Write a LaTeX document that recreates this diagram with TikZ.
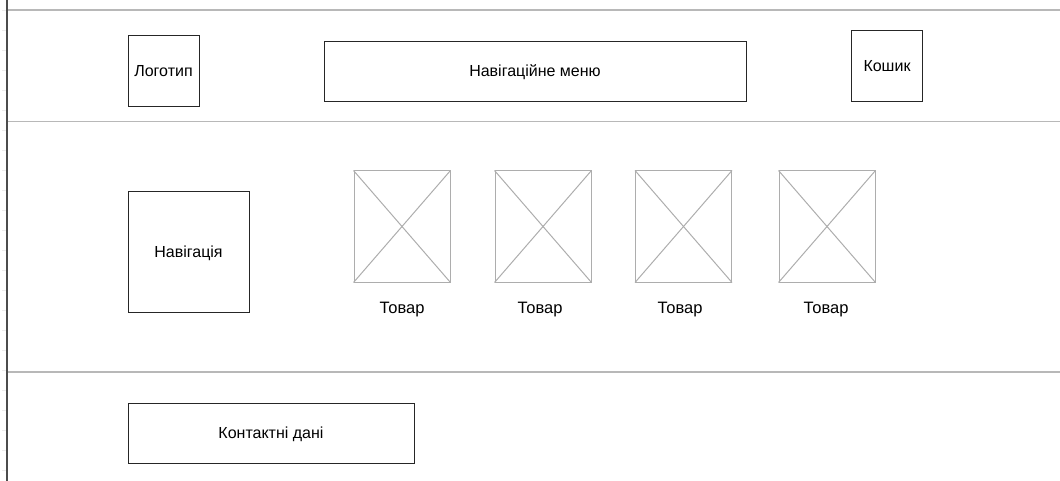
\documentclass[tikz,border=0pt]{standalone}
\usepackage{fontspec}
\setmainfont{Liberation Sans}
\usetikzlibrary{positioning}

\begin{document}
\begin{tikzpicture}[x=1pt, y=-1pt,
    box/.style = {draw=black!85, line width=0.9pt, fill=white, inner sep=0pt,
                  text depth=0pt, font=\fontsize{16}{19}\selectfont},
    img/.style = {draw=black!32, line width=1pt, inner sep=0pt,
                  minimum width=96pt, minimum height=111pt},
    rule/.style = {draw=black!28, line width=1.1pt},
    tick/.style = {draw=black!8, line width=0.8pt},
    caption/.style = {inner sep=0pt, font=\fontsize{16.5}{19}\selectfont}]

    \useasboundingbox (0,0) rectangle (1060,481);

    % page frame
    \draw[rule] (7,10) -- (1060,10);
    \draw[rule] (7,121.5) -- (1060,121.5);
    \draw[rule] (7,372) -- (1060,372);
    \foreach \t in {10,30,...,470}
        \draw[tick] (2,\t) -- (7,\t);
    \draw[black!70, line width=1.5pt] (7,0) -- (7,481);

    % header
    \node[box, minimum width=71pt, minimum height=71pt] (logo) at (163.5,70.5) {Логотип};
    \node[box, minimum width=422pt, minimum height=60pt] (menu) at (535,71) {Навігаційне меню};
    \node[box, minimum width=71pt, minimum height=71pt] (cart) at (887,65.5) {Кошик};

    % content
    \node[box, minimum width=121pt, minimum height=121pt] (nav) at (188.5,251.5) {Навігація};

    \foreach \i/\x/\tx in {1/402/402, 2/543/540, 3/683.5/680, 4/827/826} {
        \node[img] (p\i) at (\x,226.5) {};
        \draw[img] (p\i.north west) -- (p\i.south east);
        \draw[img] (p\i.south west) -- (p\i.north east);
        \node[caption] (t\i) at (\tx,309.5) {Товар};
    }

    % footer
    \node[box, minimum width=286pt, minimum height=60pt] (contacts) at (271,433) {Контактні дані};

\end{tikzpicture}
\end{document}
